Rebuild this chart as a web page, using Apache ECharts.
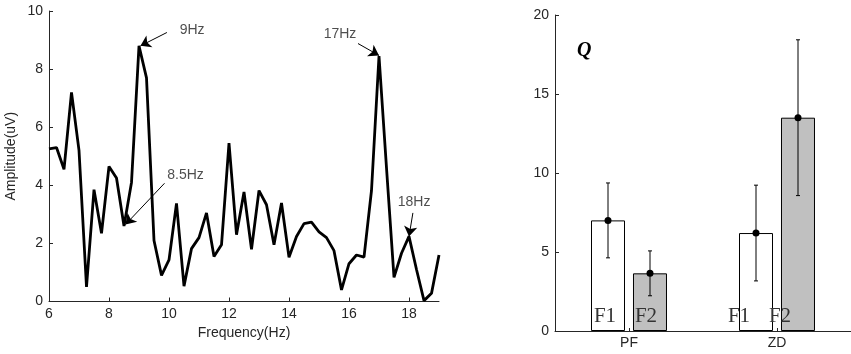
<!DOCTYPE html>
<html>
<head>
<meta charset="utf-8">
<script src="https://cdn.jsdelivr.net/npm/echarts@6/dist/echarts.min.js"></script>
<style>
  html, body { margin: 0; padding: 0; background: #fff; }
  #chart { width: 851px; height: 354px; }
</style>
</head>
<body>
<div id="chart"></div>
<script>
// 左图: 频谱
const freq = [6, 6.25, 6.5, 6.75, 7, 7.25, 7.5, 7.75, 8, 8.25, 8.5, 8.75, 9, 9.25, 9.5, 9.75,
  10, 10.25, 10.5, 10.75, 11, 11.25, 11.5, 11.75, 12, 12.25, 12.5, 12.75, 13, 13.25, 13.5, 13.75,
  14, 14.25, 14.5, 14.75, 15, 15.25, 15.5, 15.75, 16, 16.25, 16.5, 16.75, 17, 17.25, 17.5, 17.75,
  18, 18.25, 18.5, 18.75, 19]
const amp = [5.25, 5.3, 4.55, 7.2, 5.2, 0.5, 3.85, 2.35, 4.65, 4.25, 2.6, 4.1, 8.8, 7.7, 2.1, 0.9,
  1.43, 3.38, 0.53, 1.82, 2.2, 3.05, 1.55, 1.95, 5.45, 2.3, 3.77, 1.8, 3.82, 3.33, 1.95, 3.39,
  1.52, 2.24, 2.68, 2.73, 2.4, 2.2, 1.75, 0.4, 1.3, 1.6, 1.53, 3.82, 8.45, 4.6, 0.83, 1.66,
  2.24, 1.1, 0.03, 0.28, 1.6]

// 标注 (箭头起点 / 终点 / 文字位置)
const annoText = ['9Hz', '8.5Hz', '17Hz', '18Hz']
const annoFrom = [[9.93, 9.26], [9.85, 4.07], [16.3, 8.88], [18.13, 3.05]]
const annoTo = [[9.05, 8.8], [8.55, 2.65], [17.0, 8.47], [18.0, 2.24]]
const annoAt = [[10.77, 9.33], [10.55, 4.36], [15.7, 9.22], [18.17, 3.43]]

// 右图: 柱状 + 误差
const groups = ['PF', 'ZD']
const f1Mean = [7.0, 6.2]
const f1Err = [2.37, 3.03]
const f2Mean = [3.65, 13.5]
const f2Err = [1.42, 4.93]

const axisColor = '#262626'
const fontSans = 'Liberation Sans, Arial, sans-serif'
const fontSerif = 'Liberation Serif, Times New Roman, serif'

const myChart = echarts.init(document.getElementById('chart'))

function errorSeries(name, means, errs, offset) {
  return {
    name: name,
    type: 'custom',
    xAxisIndex: 1,
    yAxisIndex: 1,
    z: 10,
    silent: true,
    data: means.map((m, i) => [i, m, errs[i]]),
    renderItem(params, api) {
      const c = api.coord([api.value(0), api.value(1)])
      const top = api.coord([api.value(0), api.value(1) + api.value(2)])
      const bot = api.coord([api.value(0), api.value(1) - api.value(2)])
      const x = c[0] + offset
      const st = { stroke: '#000', lineWidth: 1 }
      return {
        type: 'group',
        children: [
          { type: 'line', shape: { x1: x, y1: top[1], x2: x, y2: bot[1] }, style: st },
          { type: 'line', shape: { x1: x - 2, y1: top[1], x2: x + 2, y2: top[1] }, style: st },
          { type: 'line', shape: { x1: x - 2, y1: bot[1], x2: x + 2, y2: bot[1] }, style: st },
          { type: 'circle', shape: { cx: x, cy: c[1], r: 3.5 }, style: { fill: '#000' } }
        ]
      }
    }
  }
}

const labelOffsets = [[-3, -4], [-17, -18]]

function barSeries(name, means, color, text, k) {
  return {
    name: name,
    type: 'bar',
    xAxisIndex: 1,
    yAxisIndex: 1,
    barWidth: 34,
    barGap: '23.5%',
    itemStyle: { color: color, borderColor: '#000', borderWidth: 1 },
    label: {
      show: true,
      position: 'insideBottom',
      distance: 4,
      formatter: text,
      fontFamily: fontSerif,
      fontSize: 21,
      color: '#333'
    },
    data: means.map((m, i) => ({ value: m, label: { offset: [labelOffsets[i][k], 0] } }))
  }
}

const option = {
  animation: false,
  backgroundColor: '#fff',
  textStyle: { fontFamily: fontSans },
  graphic: [{
    type: 'text',
    left: 577,
    top: 41,
    style: { text: 'Q', font: 'italic bold 20px ' + fontSerif, fill: '#000' }
  }],
  grid: [
    { left: 49, right: 412, top: 11, bottom: 52.5 },
    { left: 555, right: -4, top: 15, bottom: 23 }
  ],
  xAxis: [{
    type: 'value',
    gridIndex: 0,
    min: 6,
    max: 19,
    interval: 2,
    name: 'Frequency(Hz)',
    nameLocation: 'middle',
    nameGap: 24,
    nameTextStyle: { fontSize: 14, color: axisColor },
    axisLine: { show: true, lineStyle: { color: axisColor } },
    axisTick: { show: true, inside: true, length: 4, lineStyle: { color: axisColor } },
    axisLabel: { fontSize: 14, color: axisColor, margin: 6, showMaxLabel: false },
    splitLine: { show: false }
  }, {
    type: 'category',
    gridIndex: 1,
    data: groups,
    boundaryGap: true,
    axisLine: { show: true, lineStyle: { color: axisColor } },
    axisTick: { show: true, inside: true, length: 3, alignWithLabel: true, lineStyle: { color: axisColor } },
    axisLabel: { fontSize: 14, color: axisColor, margin: 5 },
    splitLine: { show: false }
  }],
  yAxis: [{
    type: 'value',
    gridIndex: 0,
    min: 0,
    max: 10,
    interval: 2,
    name: 'Amplitude(uV)',
    nameLocation: 'middle',
    nameGap: 31,
    nameTextStyle: { fontSize: 14, color: axisColor },
    axisLine: { show: true, lineStyle: { color: axisColor } },
    axisTick: { show: true, inside: true, length: 4, lineStyle: { color: axisColor } },
    axisLabel: { fontSize: 14, color: axisColor, margin: 6 },
    splitLine: { show: false }
  }, {
    type: 'value',
    gridIndex: 1,
    min: 0,
    max: 20,
    interval: 5,
    axisLine: { show: true, lineStyle: { color: axisColor } },
    axisTick: { show: true, inside: true, length: 4, lineStyle: { color: axisColor } },
    axisLabel: { fontSize: 14, color: axisColor, margin: 6 },
    splitLine: { show: false }
  }],
  series: [{
    name: 'spectrum',
    type: 'line',
    xAxisIndex: 0,
    yAxisIndex: 0,
    symbol: 'none',
    lineStyle: { color: '#000', width: 2.8 },
    data: freq.map((f, i) => [f, amp[i]]),
    markLine: {
      silent: true,
      symbol: ['none', 'arrow'],
      symbolSize: 10,
      lineStyle: { color: '#000', width: 1, type: 'solid' },
      label: { show: false },
      data: annoFrom.map((p, i) => [{ coord: p }, { coord: annoTo[i] }])
    }
  }, {
    name: 'annotations',
    type: 'scatter',
    xAxisIndex: 0,
    yAxisIndex: 0,
    symbolSize: 0,
    silent: true,
    label: {
      show: true,
      position: 'inside',
      formatter: p => p.name,
      fontSize: 14,
      color: '#222'
    },
    data: annoAt.map((p, i) => ({ name: annoText[i], value: p }))
  },
  barSeries('F1', f1Mean, '#ffffff', 'F1', 0),
  barSeries('F2', f2Mean, '#c0c0c0', 'F2', 1),
  errorSeries('F1 err', f1Mean, f1Err, -21),
  errorSeries('F2 err', f2Mean, f2Err, 21)
  ]
}

myChart.setOption(option)
</script>
</body>
</html>
